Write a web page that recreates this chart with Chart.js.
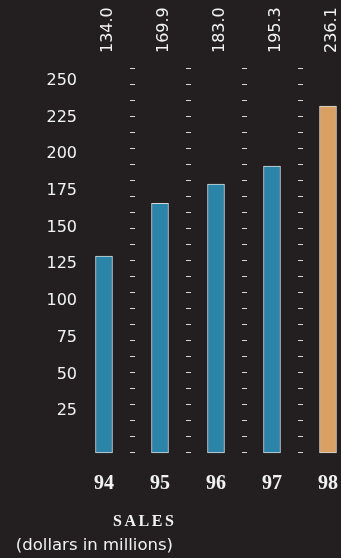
<!DOCTYPE html>
<html>
<head>
<meta charset="utf-8">
<script src="https://cdn.jsdelivr.net/npm/chart.js@4/dist/chart.umd.min.js"></script>
<style>
  html, body { margin:0; padding:0; background:#231f20; overflow:hidden; }
  #wrap { width:341px; height:558px; }
</style>
</head>
<body>
<div id="wrap"><canvas id="salesChart"></canvas></div>
<script>
const years = ['94', '95', '96', '97', '98'];
const sales = [134.0, 169.9, 183.0, 195.3, 236.1];
const barColors = ['#2a85a8', '#2a85a8', '#2a85a8', '#2a85a8', '#d9a062'];
const yTicks = [25, 50, 75, 100, 125, 150, 175, 200, 225, 250];
const titleText = 'SALES';
const subtitleText = '(dollars in millions)';

const TEXT = '#f2f2f2';

// rotated value above each bar
const valueLabels = {
  id: 'valueLabels',
  afterDatasetsDraw(chart){
    const ctx = chart.ctx;
    const meta = chart.getDatasetMeta(0);
    const baseY = chart.chartArea.top - 15;
    ctx.save();
    ctx.font = '16px "DejaVu Sans"';
    ctx.fillStyle = TEXT;
    ctx.textAlign = 'left';
    ctx.textBaseline = 'alphabetic';
    meta.data.forEach((bar, i)=>{
      ctx.save();
      ctx.translate(bar.x + 7.5, baseY);
      ctx.rotate(-Math.PI / 2);
      ctx.fillText(sales[i].toFixed(1), 0, 0);
      ctx.restore();
    });
    ctx.restore();
  }
};

// caption under the axis, right aligned
const caption = {
  id: 'caption',
  afterDraw(chart){
    const ctx = chart.ctx;
    ctx.save();
    ctx.fillStyle = TEXT;
    ctx.textAlign = 'right';
    ctx.textBaseline = 'alphabetic';
    ctx.font = 'bold 16px "Liberation Serif"';
    ctx.letterSpacing = '2.6px';
    ctx.fillText(titleText, 176.6, 526);
    ctx.letterSpacing = '0px';
    ctx.font = '16.5px "DejaVu Sans"';
    ctx.fillText(subtitleText, 173, 550);
    ctx.restore();
  }
};

const ctx = document.getElementById('salesChart').getContext('2d');
new Chart(ctx, {
  type: 'bar',
  data: {
    labels: years,
    datasets: [{
      data: sales,
      backgroundColor: barColors,
      borderColor: '#d5d8d9',
      borderWidth: 1,
      borderSkipped: false,
      barThickness: 17,
      clip: false
    }]
  },
  options: {
    responsive: true,
    maintainAspectRatio: false,
    animation: false,
    layout: { padding: { top: 68, right: 13, left: 0, bottom: 65 } },
    plugins: { legend: { display: false }, tooltip: { enabled: false } },
    scales: {
      x: {
        offset: false,
        grid: { offset: true, color: '#d8d8d8', lineWidth: 5, drawTicks: false },
        border: { display: false, dash: [1, 15] },
        ticks: { color: TEXT, font: { family: '"Liberation Serif"', size: 20, weight: 'bold' }, padding: 19 },
        afterFit: s => { s.height = 40; s.paddingLeft = 0; s.paddingRight = 0; }
      },
      y: {
        min: 0,
        max: 262,
        grid: { display: false, drawTicks: false },
        border: { display: false },
        afterBuildTicks: s => { s.ticks = yTicks.map(v => ({ value: v })); },
        ticks: { color: TEXT, font: { family: '"DejaVu Sans"', size: 16 }, padding: 27, labelOffset: -5, autoSkip: false },
        afterFit: s => { s.width = 104; }
      }
    }
  },
  plugins: [valueLabels, caption]
});
</script>
</body>
</html>
